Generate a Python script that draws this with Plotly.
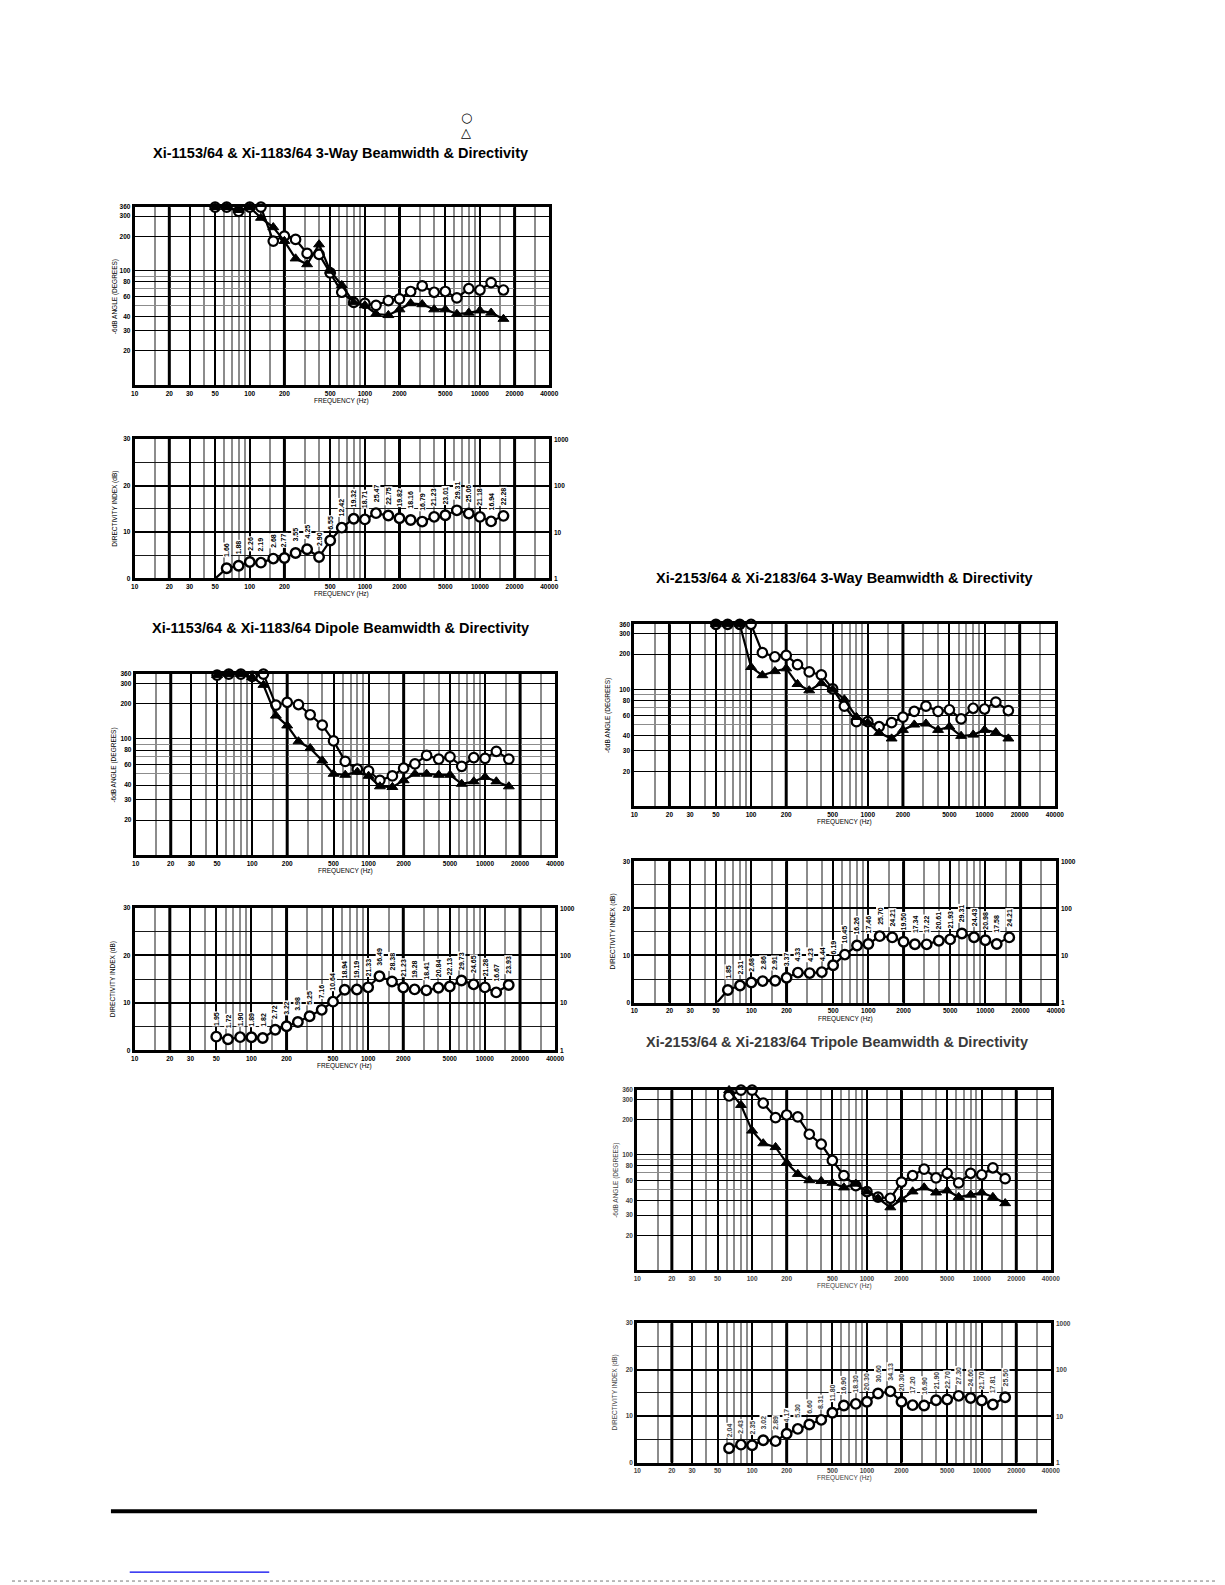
import numpy as np
import plotly.graph_objects as go

W, H = 1225, 1585
OFF = 8  # the page body margin that the figure sits inside
FONT = "Arial Narrow, Liberation Sans Narrow, Arial, Liberation Sans, sans-serif"

# 1/3 octave centre frequencies (Hz)
freq = [50, 63, 80, 100, 125, 160, 200, 250, 315, 400, 500, 630, 800, 1000,
        1250, 1600, 2000, 2500, 3150, 4000, 5000, 6300, 8000, 10000, 12500, 16000]
freq_tripole = [63, 80, 100, 125, 160, 200, 250, 315, 400, 500, 630, 800, 1000,
                1250, 1600, 2000, 2500, 3150, 4000, 5000, 6300, 8000, 10000, 12500, 16000]

# -6dB beamwidth (degrees): circle / triangle series
bw_1100_3way_circle = [360, 360, 331, 360, 360, 182, 201, 188, 142, 139, 96, 65, 53, 52,
                       50, 55, 57, 66, 74, 65, 66, 58, 70, 68, 79, 68]
bw_1100_3way_tri = [360, 360, 339, 360, 290, 240, 182, 128, 114, 170, 100, 75, 53, 50,
                    42, 41, 46, 52, 51, 46, 46, 42, 43, 45, 43, 38]
bw_1100_dipole_circle = [352, 360, 360, 344, 360, 195, 206, 197, 161, 131, 96, 64, 55, 53,
                         44, 48, 56, 61, 72, 67, 70, 58, 69, 68, 78, 67]
bw_1100_dipole_tri = [352, 360, 360, 338, 290, 158, 130, 95, 83, 65, 50, 49, 52, 48,
                      39, 38.5, 44, 50, 50, 49, 49, 41, 43, 47, 43, 39]
bw_2100_3way_circle = [360, 360, 360, 360, 206, 190, 195, 163, 141, 133, 101, 72, 53, 53,
                       48, 52, 58, 65, 72, 65, 67, 56, 69, 68, 78, 66]
bw_2100_3way_tri = [360, 360, 360, 155, 132, 143, 151, 111, 98, 113, 100, 82, 58, 52,
                    42.6, 38, 45, 50, 51, 45, 48, 40, 41, 45, 43, 38]
bw_2100_tripole_circle = [321, 360, 360, 278, 209, 220, 212, 150, 123, 89, 66, 54, 48,
                          43, 42, 58, 66, 75, 63, 69, 57, 69, 67, 77, 62]
bw_2100_tripole_tri = [360, 268, 161, 125, 116, 85, 68, 60, 59, 57, 52, 56, 48,
                       42, 35, 41, 48, 52, 47, 49, 43, 45, 47, 43, 38]

# directivity factor Q (printed above each point, right hand axis)
q_1100_3way = [0.99, 1.66, 1.88, 2.26, 2.19, 2.68, 2.77, 3.55, 4.25, 2.90, 6.55, 12.42, 19.32,
               18.71, 25.47, 22.75, 19.82, 18.16, 16.79, 21.23, 23.01, 29.31, 25.06, 21.18, 16.94, 22.28]
q_1100_dipole = [1.95, 1.72, 1.90, 1.89, 1.82, 2.72, 3.22, 3.98, 5.25, 7.16, 10.64, 18.94, 19.19,
                 21.33, 36.49, 28.38, 21.23, 19.28, 18.41, 20.84, 22.13, 29.73, 24.65, 21.28, 16.67, 23.93]
q_2100_3way = [0.96, 1.85, 2.31, 2.68, 2.86, 2.91, 3.37, 4.33, 4.23, 4.44, 6.19, 10.45, 16.26,
               17.46, 25.70, 24.21, 19.50, 17.34, 17.22, 20.61, 21.93, 29.31, 24.43, 20.98, 17.58, 24.21]
q_2100_tripole = [2.04, 2.43, 2.35, 3.02, 2.89, 4.17, 5.30, 6.60, 8.31, 11.80, 16.90, 18.30,
                  20.30, 30.60, 34.13, 20.30, 17.20, 16.90, 21.90, 22.70, 27.30, 24.60, 21.70, 17.81, 25.50]

titles = ["Xi-1153/64 & Xi-1183/64 3-Way Beamwidth & Directivity",
          "Xi-1153/64 & Xi-1183/64 Dipole Beamwidth & Directivity",
          "Xi-2153/64 & Xi-2183/64 3-Way Beamwidth & Directivity",
          "Xi-2153/64 & Xi-2183/64 Tripole Beamwidth & Directivity"]

x_ticks = [10, 20, 30, 50, 100, 200, 500, 1000, 2000, 5000, 10000, 20000, 40000]
x_grid = [m * d for d in (10, 100, 1000, 10000) for m in (1.5, 3, 4, 6, 7, 8, 9)
          if m * d <= 40000 and m * d != 30]
x_black_thick = [20, 200, 2000, 20000]
bw_ticks = [20, 30, 40, 60, 80, 100, 200, 300, 360]
bw_minor = [50, 70, 90]
# directivity panels: Q on a log scale, the left hand labels are the same lines in dB
q_ticks = [1, 10, 100, 1000]
di_labels = ["0", "10", "20", "30"]
q_minor = [3.162, 31.62, 316.2]   # 5, 15, 25 dB

fig = go.Figure()
layout = dict(width=W, height=H, margin=dict(l=0, r=0, t=0, b=0),
              paper_bgcolor="white", plot_bgcolor="white", showlegend=False)
annotations = []
shapes = []


def sfx(n):
    return "" if n == 1 else str(n)


def px(x):
    return (x - OFF) / W


def py(y):
    return 1 - (y - OFF) / H


def dom(x0, x1, y0, y1):
    return [px(x0), px(x1)], [py(y1), py(y0)]


def text(x, y, s, size=7, angle=0, color="black", family=FONT, weight="normal"):
    annotations.append(dict(xref="paper", yref="paper", x=px(x), y=py(y), text=s,
                            showarrow=False, textangle=angle, xanchor="center", yanchor="middle",
                            font=dict(size=size, color=color, family=family, weight=weight)))


def tick_font(color, size=7):
    return dict(size=size, color=color, family=FONT, weight="bold")


def x_axis(n, box, color):
    dx, dy = dom(*box)
    layout[f"xaxis{sfx(n)}"] = dict(
        type="log", domain=dx, anchor=f"y{sfx(n)}", range=[1, np.log10(40000)],
        tickmode="array", tickvals=x_ticks, ticktext=[str(v) for v in x_ticks],
        showgrid=True, gridcolor="black", gridwidth=1.5, ticks="", zeroline=False,
        showline=True, linecolor="black", linewidth=3, mirror=True,
        tickfont=tick_font(color, 6.5),
        minor=dict(tickmode="array", tickvals=x_grid, showgrid=True,
                   gridcolor="#8c8c8c", gridwidth=1.6, ticks=""))
    for v in x_black_thick:
        shapes.append(dict(type="line", xref=f"x{sfx(n)}", yref=f"y{sfx(n)} domain",
                           x0=v, x1=v, y0=0, y1=1, layer="below",
                           line=dict(color="black", width=3)))
    # x title
    text((box[0] + box[1]) / 2, box[3] + 16, "FREQUENCY (Hz)", size=6.5, color=color)


def beam_panel(n, box, fr, circ, tri, color="black", ytitle_x=112):
    dx, dy = dom(*box)
    x_axis(n, box, color)
    layout[f"yaxis{sfx(n)}"] = dict(
        type="log", domain=dy, anchor=f"x{sfx(n)}", range=[1, np.log10(360)],
        tickmode="array", tickvals=bw_ticks, ticktext=[str(v) for v in bw_ticks],
        showgrid=True, gridcolor="black", gridwidth=1.4, ticks="", zeroline=False,
        showline=True, linecolor="black", linewidth=3, mirror=True,
        tickfont=tick_font(color, 6.5),
        minor=dict(tickmode="array", tickvals=bw_minor, showgrid=True,
                   gridcolor="#8c8c8c", gridwidth=1.4, ticks=""))
    fig.add_trace(go.Scatter(x=fr, y=circ, xaxis=f"x{sfx(n)}", yaxis=f"y{sfx(n)}",
                             mode="lines+markers", cliponaxis=False,
                             line=dict(color="black", width=2.2),
                             marker=dict(symbol="circle", size=9.5, color="white",
                                         line=dict(color="black", width=2.2))))
    fig.add_trace(go.Scatter(x=fr, y=tri, xaxis=f"x{sfx(n)}", yaxis=f"y{sfx(n)}",
                             mode="lines+markers", cliponaxis=False,
                             line=dict(color="black", width=2.2),
                             marker=dict(symbol="triangle-up", size=9.5, color="black",
                                         line=dict(color="black", width=1))))
    text(ytitle_x, (box[2] + box[3]) / 2, "-6dB ANGLE (DEGREES)", size=6.5, angle=-90, color=color)


def di_panel(n, box, fr, q, color="black", ytitle_x=112):
    dx, dy = dom(*box)
    x_axis(n, box, color)
    layout[f"yaxis{n}"] = dict(
        type="log", domain=dy, anchor=f"x{n}", range=[0, 3],
        tickmode="array", tickvals=q_ticks, ticktext=di_labels,
        showgrid=True, gridcolor="black", gridwidth=2.2, ticks="", zeroline=False,
        showline=True, linecolor="black", linewidth=3, mirror=True,
        tickfont=tick_font(color, 6.5),
        minor=dict(tickmode="array", tickvals=q_minor, showgrid=True,
                   gridcolor="#1a1a1a", gridwidth=1.2, ticks=""))
    # right hand Q scale
    for v in q_ticks:
        annotations.append(dict(xref=f"x{n} domain", yref=f"y{n}", x=1, y=np.log10(v),
                                text=str(v), showarrow=False, xanchor="left", xshift=3,
                                yanchor="middle", font=tick_font(color, 6.5)))
    fig.add_trace(go.Scatter(x=fr, y=q, xaxis=f"x{n}", yaxis=f"y{n}", mode="lines+markers",
                             cliponaxis=False, line=dict(color="black", width=2.2),
                             marker=dict(symbol="circle", size=9.5, color="white",
                                         line=dict(color="black", width=2.4))))
    for f, v in zip(fr, q):
        annotations.append(dict(xref=f"x{n}", yref=f"y{n}", x=np.log10(f), y=np.log10(v),
                                text=f"{v:.2f}", textangle=-90, showarrow=False,
                                xanchor="center", yanchor="bottom", yshift=10,
                                bgcolor="white", borderpad=0,
                                font=dict(size=7, color=color, family=FONT, weight="bold")))
    text(ytitle_x, (box[2] + box[3]) / 2, "DIRECTIVITY INDEX (dB)", size=6.5, angle=-90, color=color)


# left column: Xi-1153/64 & Xi-1183/64
beam_panel(1, (132, 551, 204, 383), freq, bw_1100_3way_circle, bw_1100_3way_tri)
di_panel(2, (132, 551, 437, 577), freq, q_1100_3way)
beam_panel(3, (133, 557, 673, 855), freq, bw_1100_dipole_circle, bw_1100_dipole_tri, ytitle_x=111)
di_panel(4, (132, 557, 908, 1051), freq, q_1100_dipole, ytitle_x=110)

# right column: Xi-2153/64 & Xi-2183/64
beam_panel(5, (637, 1062, 623, 806), freq, bw_2100_3way_circle, bw_2100_3way_tri, ytitle_x=611)
di_panel(6, (637, 1063, 861, 1003), freq, q_2100_3way, ytitle_x=615)
beam_panel(7, (640, 1058, 1091, 1272), freq_tripole, bw_2100_tripole_circle,
           bw_2100_tripole_tri, color="#444444", ytitle_x=619)
di_panel(8, (640, 1058, 1325, 1465), freq_tripole, q_2100_tripole, color="#444444", ytitle_x=617)

# panel headings
HEAD = "Arial, Liberation Sans, sans-serif"
text(340, 150, titles[0], size=14.5, family=HEAD, weight="bold")
text(340, 627, titles[1], size=14.5, family=HEAD, weight="bold")
text(849, 577, titles[2], size=14.5, family=HEAD, weight="bold")
text(842, 1043, titles[3], size=14.5, color="#3a3a3a", family=HEAD, weight="bold")

# symbol key above the first heading
text(467, 114, "○", size=13, family="DejaVu Sans")
text(467, 129, "△", size=13, family="DejaVu Sans")

# page rules at the bottom
shapes.append(dict(type="line", xref="paper", yref="paper", x0=px(108), x1=px(1044),
                   y0=py(1514), y1=py(1514), line=dict(color="black", width=4)))
shapes.append(dict(type="line", xref="paper", yref="paper", x0=px(127), x1=px(268),
                   y0=py(1575), y1=py(1575), line=dict(color="#0000ee", width=1.2)))
shapes.append(dict(type="line", xref="paper", yref="paper", x0=px(8), x1=px(1225),
                   y0=py(1584), y1=py(1584), line=dict(color="#777777", width=1, dash="dot")))

layout["annotations"] = annotations
layout["shapes"] = shapes
fig.update_layout(**layout)

fig.write_html("out.html")
